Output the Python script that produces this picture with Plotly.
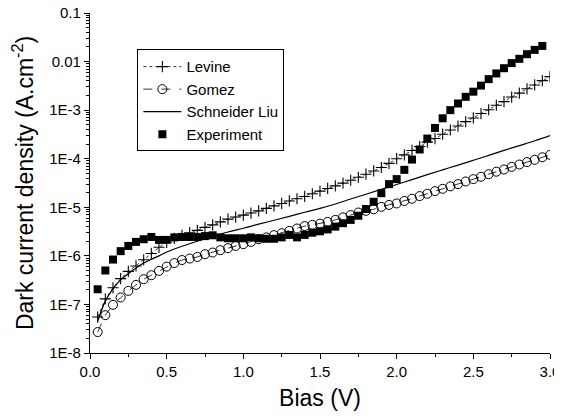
import plotly.graph_objects as go

# ---- data ----
bias = [round(0.05 * i, 2) for i in range(1, 61)]  # 0.05 .. 3.00 V

levine = [5.5e-8, 1.3e-7, 2.2e-7, 3.4e-7, 4.8e-7, 6.2e-7, 8.3e-7, 1.12e-6, 1.5e-6, 1.9e-6,
          2.3e-6, 2.65e-6, 3.0e-6, 3.35e-6, 3.85e-6, 4.35e-6, 5.0e-6, 5.7e-6, 6.3e-6, 6.9e-6,
          7.6e-6, 8.45e-6, 9.5e-6, 1.07e-5, 1.2e-5, 1.35e-5, 1.5e-5, 1.67e-5, 1.9e-5, 2.15e-5,
          2.44e-5, 2.76e-5, 3.14e-5, 3.6e-5, 4.15e-5, 4.8e-5, 5.6e-5, 6.6e-5, 8.0e-5, 1.0e-4,
          1.2e-4, 1.48e-4, 1.78e-4, 2.2e-4, 2.6e-4, 3.2e-4, 3.9e-4, 4.7e-4, 5.8e-4, 6.9e-4,
          8.5e-4, 1.02e-3, 1.26e-3, 1.5e-3, 1.86e-3, 2.24e-3, 2.75e-3, 3.3e-3, 4.05e-3, 4.9e-3]

gomez = [2.7e-8, 6.0e-8, 9.8e-8, 1.39e-7, 1.9e-7, 2.53e-7, 3.3e-7, 4.0e-7, 4.9e-7, 6.0e-7,
         7.1e-7, 8.2e-7, 8.8e-7, 9.5e-7, 1.08e-6, 1.17e-6, 1.31e-6, 1.44e-6, 1.6e-6, 1.74e-6,
         1.94e-6, 2.2e-6, 2.4e-6, 2.67e-6, 2.93e-6, 3.27e-6, 3.66e-6, 4.1e-6, 4.35e-6, 4.6e-6,
         5.0e-6, 5.5e-6, 6.2e-6, 6.9e-6, 7.8e-6, 8.45e-6, 9.1e-6, 1.02e-5, 1.12e-5, 1.2e-5,
         1.35e-5, 1.5e-5, 1.7e-5, 1.9e-5, 2.15e-5, 2.4e-5, 2.7e-5, 3.0e-5, 3.4e-5, 3.8e-5,
         4.25e-5, 4.8e-5, 5.4e-5, 6.0e-5, 6.8e-5, 7.6e-5, 8.5e-5, 9.5e-5, 1.07e-4, 1.2e-4]

schneider_bias = [0.05, 0.10, 0.15, 0.20, 0.25, 0.30, 0.35, 0.40, 0.45, 0.50, 0.6, 0.7, 0.8,
                  0.9, 1.0, 1.1, 1.2, 1.3, 1.4, 1.5, 1.6, 1.7, 1.8, 1.9, 2.0, 2.1, 2.2, 2.3,
                  2.4, 2.5, 2.6, 2.7, 2.8, 2.9, 3.0]
schneider = [4.5e-8, 1.17e-7, 2.1e-7, 3.2e-7, 4.3e-7, 5.6e-7, 7.1e-7, 8.5e-7, 1.0e-6, 1.2e-6,
             1.58e-6, 2.0e-6, 2.5e-6, 3.1e-6, 3.7e-6, 4.5e-6, 5.4e-6, 6.5e-6, 7.9e-6, 9.5e-6,
             1.17e-5, 1.48e-5, 1.86e-5, 2.34e-5, 2.95e-5, 3.7e-5, 4.7e-5, 5.9e-5, 7.4e-5,
             9.3e-5, 1.17e-4, 1.48e-4, 1.86e-4, 2.34e-4, 3.0e-4]

exp_bias = [round(0.05 * i, 2) for i in range(1, 60)]  # 0.05 .. 2.95 V
experiment = [2.05e-7, 5.0e-7, 8.4e-7, 1.25e-6, 1.6e-6, 1.94e-6, 2.2e-6, 2.45e-6, 2.13e-6, 2.13e-6,
              2.4e-6, 2.45e-6, 2.45e-6, 2.45e-6, 2.55e-6, 2.65e-6, 2.4e-6, 2.3e-6, 2.3e-6, 2.3e-6,
              2.4e-6, 2.3e-6, 2.25e-6, 2.25e-6, 2.4e-6, 2.7e-6, 2.4e-6, 2.7e-6, 3.0e-6, 3.2e-6,
              3.5e-6, 4.0e-6, 4.7e-6, 5.5e-6, 6.7e-6, 9.2e-6, 1.3e-5, 1.95e-5, 3.0e-5, 3.8e-5,
              5.9e-5, 9.6e-5, 1.55e-4, 2.6e-4, 4.3e-4, 6.8e-4, 1.0e-3, 1.37e-3, 1.88e-3, 2.4e-3,
              3.2e-3, 4.35e-3, 5.7e-3, 7.3e-3, 9.3e-3, 1.14e-2, 1.42e-2, 1.74e-2, 2.1e-2]

y_tickvals = [1e-8, 1e-7, 1e-6, 1e-5, 1e-4, 1e-3, 1e-2, 1e-1]
y_ticktext = ["1E-8", "1E-7", "1E-6", "1E-5", "1E-4", "1E-3", "0.01", "0.1"]
x_tickvals = [0.0, 0.5, 1.0, 1.5, 2.0, 2.5, 3.0]
x_ticktext = ["0.0", "0.5", "1.0", "1.5", "2.0", "2.5", "3.0"]

FONT = "Liberation Sans, Arial, sans-serif"

fig = go.Figure()
fig.add_trace(go.Scatter(
    x=bias, y=levine, name="Levine", mode="lines+markers",
    line=dict(color="black", width=0.8, dash="dot"),
    marker=dict(symbol="cross-thin", size=8, line=dict(color="black", width=1.1)),
))
fig.add_trace(go.Scatter(
    x=bias, y=gomez, name="Gomez", mode="lines+markers",
    line=dict(color="black", width=0.8, dash="dash"),
    marker=dict(symbol="circle-open", size=9, color="black", line=dict(color="black", width=1)),
))
fig.add_trace(go.Scatter(
    x=schneider_bias, y=schneider, name="Schneider Liu", mode="lines",
    line=dict(color="black", width=1.2, shape="spline"),
))
fig.add_trace(go.Scatter(
    x=exp_bias, y=experiment, name="Experiment", mode="markers",
    marker=dict(symbol="square", size=8, color="black"),
))

minor_y = [k * 10.0 ** n for n in range(-8, -1) for k in range(2, 10)]

# page body has an 8px default margin; offset the figure so the plot area matches
fig.update_layout(
    width=562, height=411,
    margin=dict(l=82, r=20, t=5, b=66),
    paper_bgcolor="white", plot_bgcolor="white",
    font=dict(family=FONT, color="black", size=15),
    showlegend=True,
    legend=dict(
        x=0.103, y=0.893, xanchor="left", yanchor="top",
        bgcolor="white", bordercolor="black", borderwidth=1,
        font=dict(family=FONT, size=15, color="black"),
        tracegroupgap=0, itemwidth=38,
    ),
    xaxis=dict(
        range=[0, 3.0], tickvals=x_tickvals, ticktext=x_ticktext,
        showline=True, linecolor="black", linewidth=1.2, mirror=False,
        ticks="outside", ticklen=5, tickwidth=1, tickcolor="black",
        showgrid=False, zeroline=False, automargin=False,
        ticklabeloverflow="allow",
        minor=dict(ticks="outside", ticklen=3, dtick=0.25, tick0=0, tickcolor="black"),
        tickfont=dict(size=15),
        title=dict(text="Bias (V)", font=dict(size=23), standoff=10),
    ),
    yaxis=dict(
        type="log", range=[-8, -1], tickvals=y_tickvals, ticktext=y_ticktext,
        showline=True, linecolor="black", linewidth=1.2, mirror=False,
        ticks="outside", ticklen=5, tickwidth=1, tickcolor="black",
        showgrid=False, zeroline=False, automargin=False,
        ticklabeloverflow="allow",
        minor=dict(ticks="outside", ticklen=3, tickvals=minor_y, tickcolor="black"),
        tickfont=dict(size=15),
        title=dict(text="Dark current density (A.cm<sup>-2</sup>)", font=dict(size=23), standoff=13),
    ),
)

fig.write_html("out.html")
